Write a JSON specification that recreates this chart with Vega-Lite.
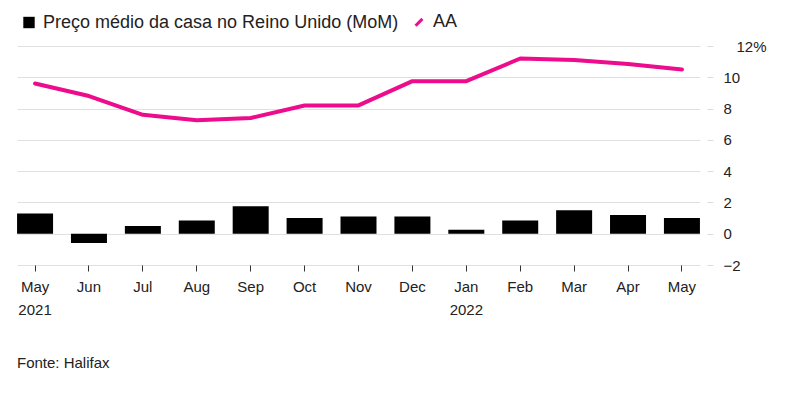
{
  "$schema": "https://vega.github.io/schema/vega-lite/v6.json",
  "width": 683,
  "height": 219,
  "autosize": {"type": "none"},
  "padding": {"left": 17, "top": 46, "right": 100, "bottom": 129},
  "background": "white",
  "config": {
    "view": {"stroke": null},
    "font": "Liberation Sans",
    "axis": {"labelFont": "Liberation Sans", "labelColor": "#222222", "labelFontSize": 15, "labelOverlap": false},
    "axisY": {"labelOverlap": false, "labelFlush": false}
  },
  "title": {
    "text": "Fonte: Halifax",
    "orient": "bottom",
    "anchor": "start",
    "frame": "group",
    "offset": 39,
    "font": "Liberation Sans",
    "fontSize": 15,
    "fontWeight": "normal",
    "color": "#222222"
  },
  "data": {
    "values": [
      {"mes": "May 2021", "mom": 1.3, "aa": 9.6},
      {"mes": "Jun", "mom": -0.6, "aa": 8.8},
      {"mes": "Jul", "mom": 0.5, "aa": 7.6},
      {"mes": "Aug", "mom": 0.85, "aa": 7.25},
      {"mes": "Sep", "mom": 1.75, "aa": 7.4},
      {"mes": "Oct", "mom": 1.0, "aa": 8.2},
      {"mes": "Nov", "mom": 1.1, "aa": 8.2},
      {"mes": "Dec", "mom": 1.1, "aa": 9.75},
      {"mes": "Jan 2022", "mom": 0.25, "aa": 9.75},
      {"mes": "Feb", "mom": 0.85, "aa": 11.2},
      {"mes": "Mar", "mom": 1.5, "aa": 11.1},
      {"mes": "Apr", "mom": 1.2, "aa": 10.85},
      {"mes": "May", "mom": 1.0, "aa": 10.5}
    ]
  },
  "encoding": {
    "x": {
      "field": "mes",
      "type": "ordinal",
      "sort": null,
      "scale": {"paddingInner": 0.33, "paddingOuter": 0},
      "axis": {
        "title": null,
        "domain": false,
        "labelAngle": 0,
        "ticks": true,
        "tickColor": "#333333",
        "tickSize": 6,
        "tickBand": "center",
        "labelPadding": 8,
        "labelLineHeight": 23,
        "labelOverlap": false,
        "labelExpr": "split(datum.label, ' ')"
      }
    }
  },
  "layer": [
    {
      "mark": {"type": "bar", "color": "#000000", "width": 36},
      "encoding": {
        "y": {
          "field": "mom",
          "type": "quantitative",
          "scale": {"domain": [-2, 12], "nice": false},
          "axis": {
            "orient": "right",
            "title": null,
            "values": [-2, 0, 2, 4, 6, 8, 10, 12],
            "domain": false,
            "grid": true,
            "gridColor": "#e0e0e0",
            "gridWidth": 1,
            "tickColor": "#dddddd",
            "tickSize": 6,
            "offset": 7,
            "labelOverlap": false,
            "labelFlush": false,
            "labelPadding": {"condition": {"test": "datum.value == 12", "value": 23}, "value": 10},
            "labelExpr": "datum.value == 12 ? '12%' : datum.label"
          }
        },
        "color": {
          "datum": "Preço médio da casa no Reino Unido (MoM)",
          "type": "nominal",
          "scale": {
            "domain": ["Preço médio da casa no Reino Unido (MoM)", "AA"],
            "range": ["#000000", "#ec0c8c"]
          },
          "legend": {
            "title": null,
            "orient": "none",
            "legendX": 3,
            "legendY": -33,
            "direction": "horizontal",
            "labelFontSize": 18,
            "labelFont": "Liberation Sans",
            "labelColor": "#222222",
            "labelLimit": 0,
            "symbolSize": 130,
            "columnPadding": 10,
            "labelOffset": 5,
            "encode": {
              "symbols": {
                "update": {
                  "shape": {"signal": "datum.value === 'AA' ? 'M-0.6,0.6L0.6,-0.6' : 'square'"},
                  "fill": {"signal": "datum.value === 'AA' ? 'transparent' : '#000000'"},
                  "stroke": {"signal": "datum.value === 'AA' ? '#ec0c8c' : '#000000'"},
                  "strokeWidth": {"signal": "datum.value === 'AA' ? 3 : 0"},
                  "opacity": {"value": 1}
                }
              }
            }
          }
        }
      }
    },
    {
      "mark": {"type": "line", "strokeWidth": 4, "strokeJoin": "round", "strokeCap": "round"},
      "encoding": {
        "y": {
          "field": "aa",
          "type": "quantitative",
          "scale": {"domain": [-2, 12], "nice": false},
          "axis": {
            "orient": "right",
            "title": null,
            "values": [-2, 0, 2, 4, 6, 8, 10, 12],
            "domain": false,
            "grid": true,
            "gridColor": "#e0e0e0",
            "gridWidth": 1,
            "tickColor": "#dddddd",
            "tickSize": 6,
            "offset": 7,
            "labelOverlap": false,
            "labelFlush": false,
            "labelPadding": {"condition": {"test": "datum.value == 12", "value": 23}, "value": 10},
            "labelExpr": "datum.value == 12 ? '12%' : datum.label"
          }
        },
        "color": {"datum": "AA", "type": "nominal"}
      }
    }
  ]
}
